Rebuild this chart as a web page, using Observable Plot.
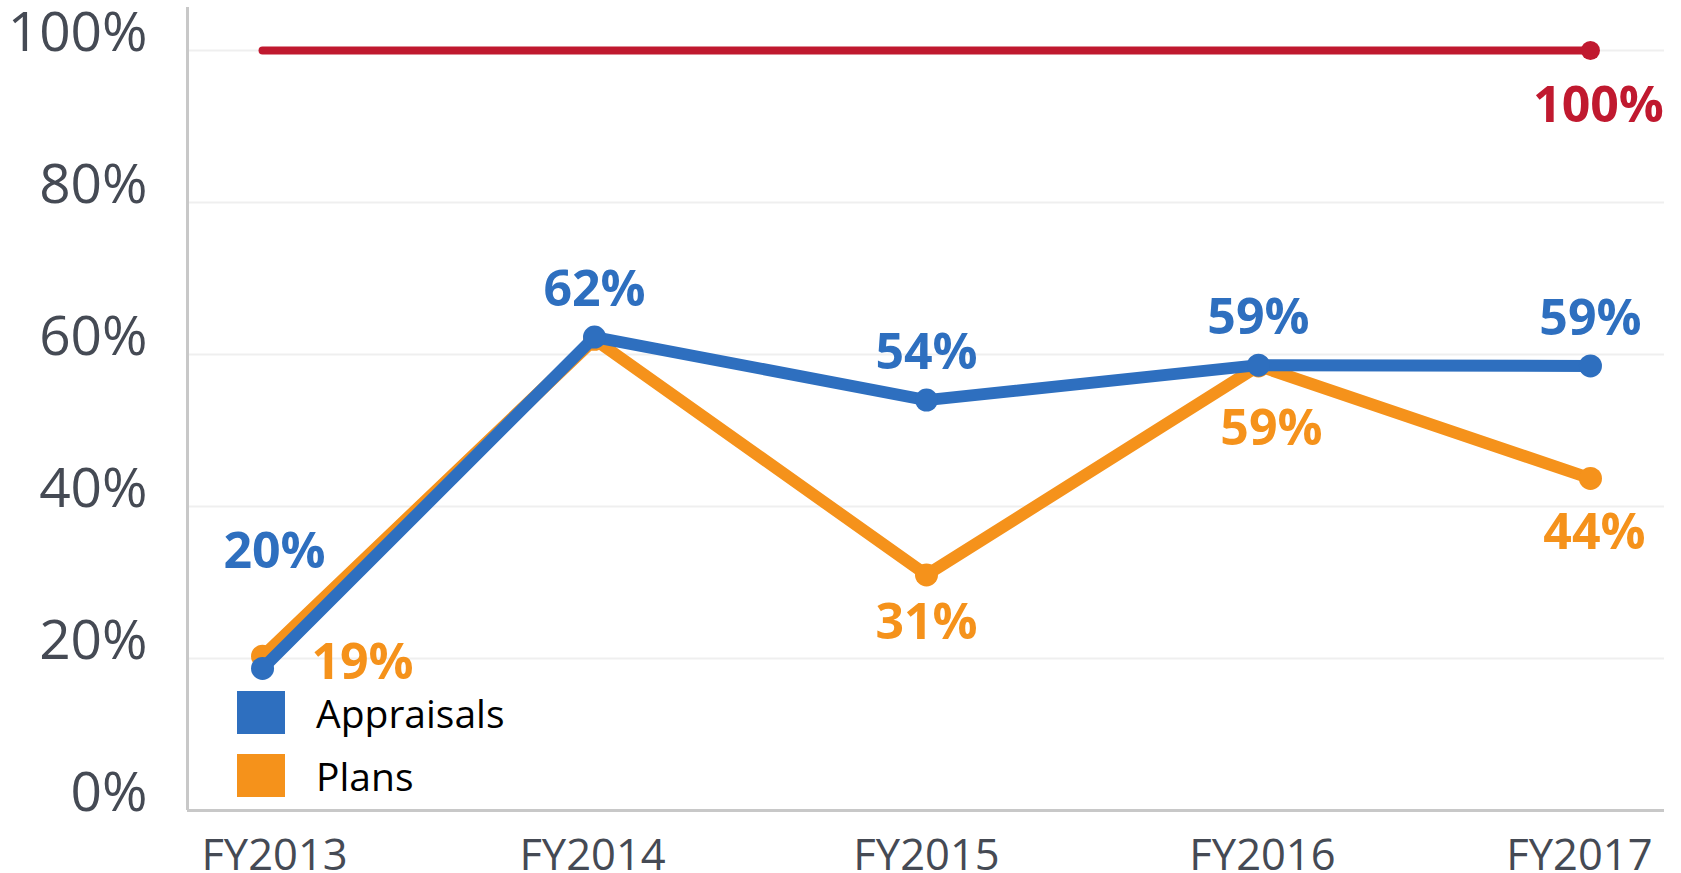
<!DOCTYPE html>
<html><head><meta charset="utf-8">
<script src="https://cdn.jsdelivr.net/npm/d3@7"></script>
<script src="https://cdn.jsdelivr.net/npm/@observablehq/plot@0.6"></script>
<style>
html,body{margin:0;padding:0;background:#fff;}
#wrap{position:relative;width:1681px;height:873px;font-family:"Open Sans",sans-serif;}
.legend{position:absolute;left:237px;top:691px;}
.item{display:flex;align-items:center;height:43px;margin-bottom:20px;font-size:39px;line-height:1;color:#000;}
.sw{display:inline-block;width:48px;height:43px;margin-right:31px;}
</style></head><body><div id="wrap"></div>
<script>
const years = ["FY2013","FY2014","FY2015","FY2016","FY2017"];
const appraisals = [18.7, 62.3, 54, 58.6, 58.5];
const plans = [20.3, 62, 31, 58.5, 43.7];
const target = [100, 100, 100, 100, 100];
const appraisalLabels = ["20%","62%","54%","59%","59%"];
const planLabels = ["19%", null, "31%", "59%", "44%"];
const targetLabels = [null, null, null, null, "100%"];
const yTicks = [0, 20, 40, 60, 80, 100];

const BLUE = "#2e6fbf", ORANGE = "#f5921b", RED = "#c0192f", GREY = "#454a54";

const rows = (vals, labs, series) => vals.map((v, i) => ({i, year: years[i], value: v, label: labs[i], series}));
const A = rows(appraisals, appraisalLabels, "Appraisals");
const P = rows(plans, planLabels, "Plans");
const T = rows(target, targetLabels, "Target");

const xLo = -0.226, xHi = 4.223;
const font = "Open Sans";
// small horizontal nudges of the category labels, as in the original layout
const xLabelNudge = [12, -2, 0, 4, -11];

const chart = Plot.plot({
  width: 1681, height: 873,
  marginLeft: 187, marginRight: 17, marginTop: 7, marginBottom: 63,
  style: {fontFamily: font, background: "#fff", overflow: "visible"},
  x: {type: "linear", domain: [xLo, xHi], axis: null, label: null},
  y: {domain: [0, 105.66], axis: null, label: null},
  marks: [
    Plot.ruleY(yTicks.filter(t => t > 0), {x1: xLo, x2: xHi, stroke: "#efefef", strokeWidth: 2}),
    Plot.ruleX([xLo], {stroke: "#c8c8c8", strokeWidth: 3}),
    Plot.ruleY([0], {x1: xLo, x2: xHi, stroke: "#c8c8c8", strokeWidth: 3}),
    Plot.axisY({ticks: yTicks, tickFormat: d => d + "%", tickSize: 0, tickPadding: 40, fontSize: 55, fill: GREY, dy: -17, anchor: "left", label: null}),
    ...years.map((y, i) => Plot.axisX({ticks: [i], tickFormat: j => years[j], tickSize: 0, tickPadding: 29, fontSize: 43.5, fill: GREY, anchor: "bottom", dx: xLabelNudge[i], label: null})),
    // target line
    Plot.line(T, {x: "i", y: "value", stroke: RED, strokeWidth: 8, strokeLinecap: "round"}),
    Plot.dot(T.filter(d => d.label), {x: "i", y: "value", r: 9.5, fill: RED}),
    // plans
    Plot.line(P, {x: "i", y: "value", stroke: ORANGE, strokeWidth: 12, strokeLinejoin: "round"}),
    Plot.dot(P, {x: "i", y: "value", r: 11.5, fill: ORANGE}),
    // appraisals
    Plot.line(A, {x: "i", y: "value", stroke: BLUE, strokeWidth: 12, strokeLinejoin: "round"}),
    Plot.dot(A, {x: "i", y: "value", r: 11.5, fill: BLUE}),
    // labels
    Plot.text(T.filter(d => d.label), {x: "i", y: "value", text: "label", fill: RED, fontSize: 50, fontWeight: "bold", dx: 8, dy: 55}),
    Plot.text(A.filter(d => d.i > 0), {x: "i", y: "value", text: "label", fill: BLUE, fontSize: 50, fontWeight: "bold", dy: -47}),
    Plot.text(A.filter(d => d.i === 0), {x: "i", y: "value", text: "label", fill: BLUE, fontSize: 50, fontWeight: "bold", dx: 12, dy: -116}),
    Plot.text(P.filter(d => d.i === 0), {x: "i", y: "value", text: "label", fill: ORANGE, fontSize: 50, fontWeight: "bold", dx: 100, dy: 7}),
    Plot.text(P.filter(d => d.i === 2), {x: "i", y: "value", text: "label", fill: ORANGE, fontSize: 50, fontWeight: "bold", dy: 48}),
    Plot.text(P.filter(d => d.i === 3), {x: "i", y: "value", text: "label", fill: ORANGE, fontSize: 50, fontWeight: "bold", dx: 13, dy: 63}),
    Plot.text(P.filter(d => d.i === 4), {x: "i", y: "value", text: "label", fill: ORANGE, fontSize: 50, fontWeight: "bold", dx: 4, dy: 55})
  ]
});

const wrap = document.getElementById("wrap");
wrap.appendChild(chart);
const legend = document.createElement("div");
legend.className = "legend";
[["Appraisals", BLUE], ["Plans", ORANGE]].forEach(([name, color]) => {
  const it = document.createElement("div");
  it.className = "item";
  const sw = document.createElement("span");
  sw.className = "sw";
  sw.style.background = color;
  it.appendChild(sw);
  it.appendChild(document.createTextNode(name));
  legend.appendChild(it);
});
wrap.appendChild(legend);
</script></body></html>
